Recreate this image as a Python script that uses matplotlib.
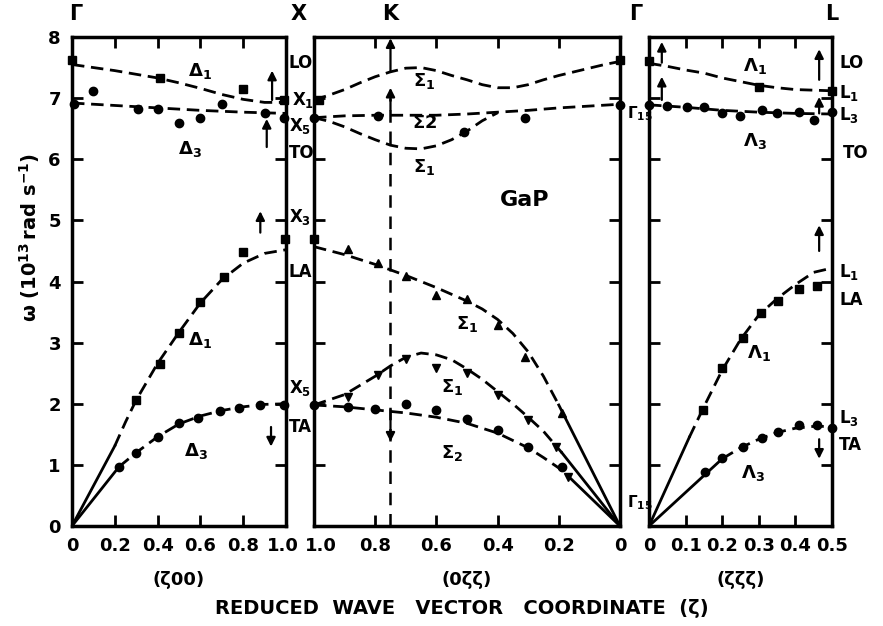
import matplotlib
matplotlib.use("Agg")
import matplotlib.pyplot as plt
from matplotlib.transforms import ScaledTranslation

plt.rcParams['font.family'] = ['DejaVu Sans']
plt.rcParams['font.weight'] = 'bold'
plt.rcParams['mathtext.fontset'] = 'dejavusans'
plt.rcParams['mathtext.default'] = 'bf'

# ---- (zeta 0 0) direction, Gamma -> X ----
d_lo_x = [0, 0.1, 0.2, 0.3, 0.4, 0.5, 0.6, 0.7, 0.8, 0.9, 1.0]
d_lo_y = [7.55, 7.5, 7.45, 7.39, 7.33, 7.25, 7.16, 7.06, 6.98, 6.93, 6.93]
d_lo_px = [0, 0.41, 0.80, 0.99]
d_lo_py = [7.63, 7.33, 7.15, 6.97]

d_to_x = [0, 0.2, 0.4, 0.6, 0.8, 1.0]
d_to_y = [6.92, 6.88, 6.84, 6.80, 6.77, 6.75]
d_to_px = [0.01, 0.10, 0.31, 0.40, 0.50, 0.60, 0.70, 0.90, 0.99]
d_to_py = [6.91, 7.12, 6.82, 6.82, 6.60, 6.67, 6.90, 6.75, 6.67]

d_la_x = [0.2, 0.25, 0.3, 0.4, 0.5, 0.6, 0.7, 0.8, 0.9, 1.0]
d_la_y = [1.31, 1.7, 2.06, 2.66, 3.17, 3.65, 4.03, 4.3, 4.46, 4.52]
d_la_sx = [0, 0.2]
d_la_sy = [0, 1.31]
d_la_px = [0.30, 0.41, 0.50, 0.60, 0.71, 0.80, 0.995]
d_la_py = [2.06, 2.65, 3.16, 3.67, 4.08, 4.49, 4.70]

d_ta_x = [0.22, 0.3, 0.4, 0.5, 0.6, 0.7, 0.8, 0.9, 1.0]
d_ta_y = [0.97, 1.2, 1.46, 1.67, 1.8, 1.89, 1.95, 1.99, 2.0]
d_ta_sx = [0, 0.22]
d_ta_sy = [0, 0.97]
d_ta_px = [0.22, 0.30, 0.40, 0.50, 0.59, 0.69, 0.78, 0.88, 0.99]
d_ta_py = [0.97, 1.19, 1.46, 1.69, 1.77, 1.88, 1.93, 1.98, 1.98]

# ---- (0 zeta zeta) direction, X -> K -> Gamma ----
s_lo_x = [1.0, 0.95, 0.9, 0.85, 0.8, 0.75, 0.7, 0.65, 0.6, 0.55, 0.5, 0.45, 0.4,
          0.35, 0.3, 0.25, 0.2, 0.15, 0.1, 0.05, 0.0]
s_lo_y = [6.97, 7.05, 7.14, 7.25, 7.35, 7.43, 7.49, 7.5, 7.45, 7.37, 7.3, 7.22, 7.17,
          7.17, 7.22, 7.3, 7.37, 7.43, 7.49, 7.55, 7.6]
s_lo_px = [0.985, 0.0]
s_lo_py = [6.97, 7.63]

s_to2_x = [1.0, 0.9, 0.8, 0.7, 0.6, 0.5, 0.4, 0.3, 0.2, 0.1, 0.0]
s_to2_y = [6.68, 6.71, 6.72, 6.72, 6.72, 6.74, 6.77, 6.8, 6.84, 6.87, 6.9]
s_to2_px = [1.0, 0.79, 0.31, 0.0]
s_to2_py = [6.68, 6.70, 6.67, 6.89]

s_to1_x = [1.0, 0.95, 0.9, 0.85, 0.8, 0.75, 0.7, 0.65, 0.6, 0.55, 0.5, 0.45, 0.4]
s_to1_y = [6.68, 6.62, 6.53, 6.42, 6.32, 6.23, 6.18, 6.17, 6.22, 6.32, 6.46, 6.63, 6.76]
s_to1_px = [0.51]
s_to1_py = [6.45]

s_la_x = [1.0, 0.9, 0.8, 0.7, 0.6, 0.5, 0.45, 0.4, 0.35, 0.3, 0.25, 0.2]
s_la_y = [4.57, 4.44, 4.28, 4.1, 3.9, 3.68, 3.55, 3.38, 3.15, 2.85, 2.45, 1.98]
s_la_sx = [0.2, 0.0]
s_la_sy = [1.98, 0.0]
s_la_px = [0.89, 0.79, 0.70, 0.60, 0.50, 0.40, 0.31, 0.19]
s_la_py = [4.53, 4.30, 4.09, 3.78, 3.72, 3.29, 2.77, 1.85]
s_x3_py = 4.70

s_ta1_x = [1.0, 0.9, 0.8, 0.75, 0.7, 0.65, 0.6, 0.55, 0.5, 0.45, 0.4, 0.35, 0.3, 0.25, 0.19]
s_ta1_y = [1.98, 2.15, 2.45, 2.62, 2.76, 2.83, 2.8, 2.72, 2.57, 2.4, 2.2, 2.0, 1.78, 1.55, 1.2]
s_ta1_sx = [0.19, 0.0]
s_ta1_sy = [1.2, 0.0]
s_ta1_px = [0.89, 0.79, 0.70, 0.60, 0.50, 0.40, 0.30, 0.21, 0.17]
s_ta1_py = [2.11, 2.47, 2.73, 2.59, 2.50, 2.14, 1.73, 1.29, 0.80]

s_ta2_x = [1.0, 0.9, 0.8, 0.7, 0.6, 0.5, 0.4, 0.3, 0.25, 0.2, 0.17]
s_ta2_y = [1.98, 1.95, 1.9, 1.85, 1.78, 1.68, 1.52, 1.28, 1.12, 0.95, 0.82]
s_ta2_sx = [0.17, 0.0]
s_ta2_sy = [0.82, 0.0]
s_ta2_px = [1.0, 0.89, 0.80, 0.70, 0.60, 0.50, 0.40, 0.30, 0.19]
s_ta2_py = [1.98, 1.95, 1.91, 2.0, 1.89, 1.75, 1.57, 1.29, 0.97]

# ---- (zeta zeta zeta) direction, Gamma -> L ----
l_lo_x = [0, 0.05, 0.1, 0.15, 0.2, 0.25, 0.3, 0.35, 0.4, 0.45, 0.5]
l_lo_y = [7.57, 7.52, 7.46, 7.41, 7.33, 7.27, 7.21, 7.17, 7.14, 7.13, 7.12]
l_lo_px = [0, 0.30, 0.50]
l_lo_py = [7.61, 7.18, 7.12]

l_to_x = [0, 0.1, 0.2, 0.3, 0.4, 0.5]
l_to_y = [6.89, 6.85, 6.8, 6.77, 6.75, 6.74]
l_to_px = [0, 0.05, 0.105, 0.15, 0.2, 0.25, 0.31, 0.35, 0.41, 0.45, 0.5]
l_to_py = [6.89, 6.87, 6.86, 6.85, 6.75, 6.71, 6.8, 6.75, 6.77, 6.65, 6.78]

l_la_x = [0.11, 0.15, 0.2, 0.25, 0.3, 0.35, 0.4, 0.45, 0.5]
l_la_y = [1.45, 1.95, 2.55, 3.05, 3.45, 3.72, 3.95, 4.15, 4.22]
l_la_sx = [0, 0.11]
l_la_sy = [0, 1.45]
l_la_px = [0.148, 0.2, 0.257, 0.306, 0.352, 0.41, 0.46]
l_la_py = [1.9, 2.58, 3.08, 3.49, 3.68, 3.88, 3.93]

l_ta_x = [0.2, 0.25, 0.3, 0.35, 0.4, 0.45, 0.5]
l_ta_y = [1.1, 1.28, 1.42, 1.53, 1.6, 1.63, 1.63]
l_ta_sx = [0, 0.2]
l_ta_sy = [0, 1.1]
l_ta_px = [0.153, 0.2, 0.257, 0.309, 0.353, 0.41, 0.46, 0.5]
l_ta_py = [0.88, 1.11, 1.29, 1.44, 1.54, 1.65, 1.65, 1.6]

y_ticks = [0, 1, 2, 3, 4, 5, 6, 7, 8]
d_ticks = [0, 0.2, 0.4, 0.6, 0.8, 1.0]
d_ticklabels = ['0', '0.2', '0.4', '0.6', '0.8', '1.0']
s_ticks = [1.0, 0.8, 0.6, 0.4, 0.2, 0]
s_ticklabels = ['1.0', '0.8', '0.6', '0.4', '0.2', '0']
l_ticks = [0, 0.1, 0.2, 0.3, 0.4, 0.5]
l_ticklabels = ['0', '0.1', '0.2', '0.3', '0.4', '0.5']

LW = 2.0
DASH = (4.5, 2.4)
MS = 6
fs = 13

fig = plt.figure(figsize=(8.83, 6.26), dpi=100)
bottom, height = 0.1597, 0.7812
ax1 = fig.add_axes([0.0815, bottom, 0.2424, height])
ax2 = fig.add_axes([0.3556, bottom, 0.3465, height])
ax3 = fig.add_axes([0.7350, bottom, 0.2072, height])


def dashed(ax, x, y):
    ax.plot(x, y, color='k', lw=LW, dashes=DASH, solid_capstyle='butt')


def solid(ax, x, y):
    ax.plot(x, y, color='k', lw=LW)


def pts(ax, x, y, m):
    ax.plot(x, y, ls='none', marker=m, color='k', ms=MS, clip_on=False, zorder=5)


def arrow(ax, x, y0, y1):
    ax.annotate('', xy=(x, y1), xytext=(x, y0),
                arrowprops=dict(arrowstyle='-|>', color='k', lw=1.6, mutation_scale=13,
                                shrinkA=0, shrinkB=0))


def shift(label, dx):
    label.set_transform(label.get_transform() + ScaledTranslation(dx / 72, 0, fig.dpi_scale_trans))


for ax in (ax1, ax2, ax3):
    ax.set_ylim(0, 8)
    ax.patch.set_alpha(0)
    for sp in ax.spines.values():
        sp.set_linewidth(2.5)
    ax.set_yticks(y_ticks)
    ax.tick_params(direction='in', length=8, width=2, top=True, right=True,
                   labelsize=fs, pad=8)

# Gamma - X panel
ax1.set_xlim(0, 1.0)
ax1.set_xticks(d_ticks)
ax1.set_xticklabels(d_ticklabels)
ax1.set_yticklabels([str(v) for v in y_ticks])
dashed(ax1, d_lo_x, d_lo_y)
pts(ax1, d_lo_px, d_lo_py, 's')
dashed(ax1, d_to_x, d_to_y)
pts(ax1, d_to_px, d_to_py, 'o')
dashed(ax1, d_la_x, d_la_y)
solid(ax1, d_la_sx, d_la_sy)
pts(ax1, d_la_px, d_la_py, 's')
dashed(ax1, d_ta_x, d_ta_y)
solid(ax1, d_ta_sx, d_ta_sy)
pts(ax1, d_ta_px, d_ta_py, 'o')
arrow(ax1, 0.935, 6.97, 7.45)
arrow(ax1, 0.91, 6.2, 6.66)
arrow(ax1, 0.88, 4.8, 5.15)
arrow(ax1, 0.93, 1.62, 1.3)

# X - K - Gamma panel
ax2.set_xlim(1.0, 0)
ax2.set_xticks(s_ticks)
ax2.set_xticklabels(s_ticklabels)
ax2.set_yticklabels([])
dashed(ax2, s_lo_x, s_lo_y)
pts(ax2, s_lo_px, s_lo_py, 's')
dashed(ax2, s_to2_x, s_to2_y)
pts(ax2, s_to2_px, s_to2_py, 'o')
dashed(ax2, s_to1_x, s_to1_y)
pts(ax2, s_to1_px, s_to1_py, 'o')
dashed(ax2, s_la_x, s_la_y)
solid(ax2, s_la_sx, s_la_sy)
pts(ax2, s_la_px, s_la_py, '^')
pts(ax2, [1.0], [s_x3_py], 's')
dashed(ax2, s_ta1_x, s_ta1_y)
solid(ax2, s_ta1_sx, s_ta1_sy)
pts(ax2, s_ta1_px, s_ta1_py, 'v')
dashed(ax2, s_ta2_x, s_ta2_y)
solid(ax2, s_ta2_sx, s_ta2_sy)
pts(ax2, s_ta2_px, s_ta2_py, 'o')
# K point
ax2.plot([0.75, 0.75], [0, 7.0], color='k', lw=1.8, dashes=(5, 3.5))
arrow(ax2, 0.75, 6.8, 7.17)
arrow(ax2, 0.75, 1.9, 1.38)
arrow(ax2, 0.75, 7.45, 7.98)

# Gamma - L panel
ax3.set_xlim(0, 0.5)
ax3.set_xticks(l_ticks)
ax3.set_xticklabels(l_ticklabels)
ax3.set_yticklabels([])
dashed(ax3, l_lo_x, l_lo_y)
pts(ax3, l_lo_px, l_lo_py, 's')
dashed(ax3, l_to_x, l_to_y)
pts(ax3, l_to_px, l_to_py, 'o')
dashed(ax3, l_la_x, l_la_y)
solid(ax3, l_la_sx, l_la_sy)
pts(ax3, l_la_px, l_la_py, 's')
dashed(ax3, l_ta_x, l_ta_y)
solid(ax3, l_ta_sx, l_ta_sy)
pts(ax3, l_ta_px, l_ta_py, 'o')
arrow(ax3, 0.035, 7.58, 7.92)
arrow(ax3, 0.035, 6.97, 7.35)
arrow(ax3, 0.465, 7.3, 7.8)
arrow(ax3, 0.465, 6.75, 7.02)
arrow(ax3, 0.465, 4.5, 4.92)
arrow(ax3, 0.465, 1.42, 1.1)

# keep the two "1.0" labels at X apart
shift(ax1.get_xticklabels()[-1], -2)
shift(ax2.get_xticklabels()[0], 5)

# symmetry points on top
top_kw = dict(fontsize=15, ha='center', va='center', clip_on=False)
ax1.text(0.02, 8.38, 'Γ', **top_kw)
ax1.text(1.06, 8.38, 'X', **top_kw)
ax2.text(0.75, 8.38, 'K', **top_kw)
ax2.text(-0.05, 8.38, 'Γ', **top_kw)
ax3.text(0.5, 8.38, 'L', **top_kw)

# mode labels at zone boundaries
side_kw = dict(fontsize=12, ha='left', va='center', clip_on=False)
ax1.text(1.012, 7.58, 'LO', **side_kw)
ax1.text(1.03, 6.97, r'X$_1$', **side_kw)
ax1.text(1.015, 6.55, r'X$_5$', **side_kw)
ax1.text(1.012, 6.1, 'TO', **side_kw)
ax1.text(1.015, 5.05, r'X$_3$', **side_kw)
ax1.text(1.012, 4.15, 'LA', **side_kw)
ax1.text(1.015, 2.25, r'X$_5$', **side_kw)
ax1.text(1.012, 1.62, 'TA', **side_kw)
g_kw = dict(fontsize=11, ha='left', va='center', clip_on=False)
ax2.text(-0.022, 6.75, r'$\Gamma_{15}$', **g_kw)
ax2.text(-0.022, 0.38, r'$\Gamma_{15}$', **g_kw)
ax3.text(0.52, 7.58, 'LO', **side_kw)
ax3.text(0.52, 7.08, r'L$_1$', **side_kw)
ax3.text(0.52, 6.72, r'L$_3$', **side_kw)
ax3.text(0.53, 6.1, 'TO', **side_kw)
ax3.text(0.52, 4.16, r'L$_1$', **side_kw)
ax3.text(0.52, 3.7, 'LA', **side_kw)
ax3.text(0.52, 1.76, r'L$_3$', **side_kw)
ax3.text(0.52, 1.33, 'TA', **side_kw)

# branch labels
br_kw = dict(fontsize=fs, ha='center', va='center')
ax1.text(0.6, 7.45, r'$\Delta_1$', **br_kw)
ax1.text(0.55, 6.17, r'$\Delta_3$', **br_kw)
ax1.text(0.6, 3.05, r'$\Delta_1$', **br_kw)
ax1.text(0.58, 1.23, r'$\Delta_3$', **br_kw)
ax2.text(0.64, 7.28, r'$\Sigma_1$', **br_kw)
ax2.text(0.64, 6.6, r'$\Sigma 2$', **br_kw)
ax2.text(0.64, 5.88, r'$\Sigma_1$', **br_kw)
ax2.text(0.31, 5.33, 'GaP', fontsize=16, ha='center', va='center')
ax2.text(0.5, 3.3, r'$\Sigma_1$', **br_kw)
ax2.text(0.55, 2.28, r'$\Sigma_1$', **br_kw)
ax2.text(0.55, 1.2, r'$\Sigma_2$', **br_kw)
ax3.text(0.29, 7.52, r'$\Lambda_1$', **br_kw)
ax3.text(0.29, 6.3, r'$\Lambda_3$', **br_kw)
ax3.text(0.3, 2.83, r'$\Lambda_1$', **br_kw)
ax3.text(0.285, 0.87, r'$\Lambda_3$', **br_kw)

# direction labels under each panel
ax1.text(0.5, -0.11, '(ζ00)', transform=ax1.transAxes, fontsize=fs, ha='center', va='center')
ax2.text(0.5, -0.11, '(0ζζ)', transform=ax2.transAxes, fontsize=fs, ha='center', va='center')
ax3.text(0.5, -0.11, '(ζζζ)', transform=ax3.transAxes, fontsize=fs, ha='center', va='center')

fig.text(0.523, 1 - 609 / 626, 'REDUCED  WAVE   VECTOR   COORDINATE  (ζ)',
         fontsize=14, ha='center', va='center')
fig.text(0.034, 0.62, r'$\mathrm{\omega}\ (10^{13}\,\mathrm{rad\ s^{-1}})$',
         fontsize=14, rotation=90, ha='center', va='center')

fig.savefig('out.png', dpi=100)
